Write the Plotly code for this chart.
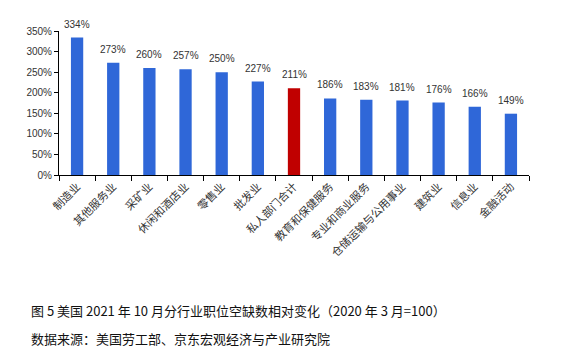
import plotly.graph_objects as go

categories = ["制造业", "其他服务业", "采矿业", "休闲和酒店业", "零售业", "批发业", "私人部门合计",
              "教育和保健服务", "专业和商业服务", "仓储运输与公用事业", "建筑业", "信息业", "金融活动"]
values = [334, 273, 260, 257, 250, 227, 211, 186, 183, 181, 176, 166, 149]
highlight = "私人部门合计"
y_ticks = [0, 50, 100, 150, 200, 250, 300, 350]

colors = ["#C00000" if c == highlight else "#2F67D8" for c in categories]

fig = go.Figure(go.Bar(
    x=categories, y=values, marker_color=colors, marker_line_width=0,
    width=0.34, cliponaxis=False,
))

label_annots = [
    dict(x=c, y=v, text=f"{v}%", xref="x", yref="y", showarrow=False,
         yanchor="bottom", yshift=6,
         font=dict(family="Liberation Sans, Arial", size=10, color="#333333"))
    for c, v in zip(categories, values)
]

fig.update_layout(
    width=575, height=360,
    margin=dict(l=59, r=46, t=31, b=185, autoexpand=False),
    paper_bgcolor="white", plot_bgcolor="white",
    showlegend=False,
    xaxis=dict(
        type="category", tickangle=-45, ticks="outside", tickson="boundaries",
        ticklen=5, tickcolor="black", showline=True, linecolor="black", linewidth=1,
        tickfont=dict(family="Noto Sans CJK SC", size=11, color="#333333"),
        showgrid=False, automargin=False,
    ),
    yaxis=dict(
        range=[0, 350], tickvals=y_ticks, ticktext=[f"{t}%" for t in y_ticks],
        ticks="outside", ticklen=4, tickcolor="black", showline=True, linecolor="black",
        linewidth=1, showgrid=False, zeroline=False, automargin=False,
        tickfont=dict(family="Liberation Sans, Arial", size=10, color="#333333"),
    ),
    annotations=label_annots + [
        dict(text="图 5 美国 2021 年 10 月分行业职位空缺数相对变化（2020 年 3 月=100）",
             xref="paper", yref="paper", x=-30/470, y=-(310 - 175) / 144, xanchor="left", yanchor="middle",
             showarrow=False, font=dict(family="Noto Sans CJK SC", size=13, color="#111111")),
        dict(text="数据来源：美国劳工部、京东宏观经济与产业研究院",
             xref="paper", yref="paper", x=-30/470, y=-(338 - 175) / 144, xanchor="left", yanchor="middle",
             showarrow=False, font=dict(family="Noto Sans CJK SC", size=13, color="#111111")),
    ],
)

fig.write_html("out.html", config={"displayModeBar": False},
               post_script="document.body.style.margin='0';")
